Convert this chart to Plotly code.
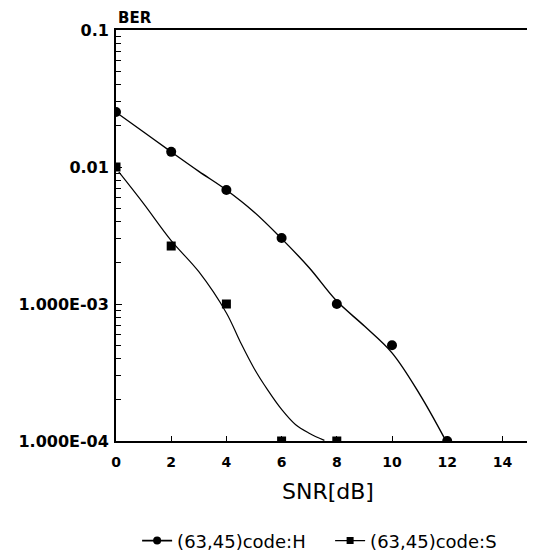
import plotly.graph_objects as go

# Measured points
snr_h = [0, 2, 4, 6, 8, 10, 12]
ber_h = [0.0252, 0.0129, 0.0068, 0.00303, 0.00100, 0.00050, 0.00010]
snr_s = [0, 2, 4, 6, 8]
ber_s = [0.0100, 0.00265, 0.00100, 0.00010, 0.00010]

# Smooth fitted curves
fit_h_x = [0, 1, 2, 3, 4, 5, 6, 7, 8, 9, 10, 11, 11.9]
fit_h_y = [0.0251, 0.0180, 0.0129, 0.0093, 0.0068, 0.0047, 0.0030, 0.00184, 0.00105, 0.00069, 0.00044, 0.00022, 0.000105]
fit_s_x = [0.1, 1, 2, 3, 4, 4.5, 5, 5.5, 6, 6.5, 7, 7.55]
fit_s_y = [0.0092, 0.0054, 0.0029, 0.00172, 0.00086, 0.00053, 0.00034, 0.000235, 0.000170, 0.000132, 0.000114, 0.000101]

y_tickvals = [1e-4, 1e-3, 1e-2, 1e-1]
y_ticktext = ["1.000E-04", "1.000E-03", "0.01", "0.1"]
x_tickvals = [0, 2, 4, 6, 8, 10, 12, 14]
x_ticktext = ["0", "2", "4", "6", "8", "10", "12", "14"]
minor_vals = [m * 10 ** e for e in (-4, -3, -2) for m in range(2, 10)]

label_h = "(63,45)code:H"
label_s = "(63,45)code:S"

FONT = "DejaVu Sans"
fig = go.Figure()
fig.add_trace(go.Scatter(x=fit_h_x, y=fit_h_y, mode="lines", line=dict(color="black", width=1.4, shape="spline", smoothing=1.0), showlegend=False))
fig.add_trace(go.Scatter(x=fit_s_x, y=fit_s_y, mode="lines", line=dict(color="black", width=1.2, shape="spline", smoothing=1.0), showlegend=False))
fig.add_trace(go.Scatter(x=snr_h, y=ber_h, mode="markers", marker=dict(symbol="circle", size=10, color="black"), showlegend=False))
fig.add_trace(go.Scatter(x=snr_s, y=ber_s, mode="markers", marker=dict(symbol="square", size=9, color="black"), showlegend=False))
# legend entries
fig.add_trace(go.Scatter(x=[None], y=[None], mode="lines+markers", name=label_h,
                         line=dict(color="black", width=1.8), marker=dict(symbol="circle", size=8, color="black")))
fig.add_trace(go.Scatter(x=[None], y=[None], mode="lines+markers", name=label_s,
                         line=dict(color="black", width=1.3), marker=dict(symbol="square", size=7, color="black")))

fig.update_layout(
    width=535, height=557,
    margin=dict(l=108, r=13, t=22, b=124, autoexpand=False),
    paper_bgcolor="white", plot_bgcolor="white",
    font=dict(family=FONT, color="black", size=14),
    legend=dict(orientation="h", x=0.051, xanchor="left", y=-0.243, yanchor="middle",
                font=dict(family=FONT, size=18), itemwidth=30, tracegroupgap=0, entrywidth=148),
    showlegend=True,
)
fig.update_xaxes(range=[0, 15], tickmode="array", tickvals=x_tickvals, ticktext=x_ticktext,
                 ticks="inside", ticklen=5, tickcolor="black", showline=True, linecolor="black",
                 linewidth=1.8, mirror=True, showgrid=False, zeroline=False, automargin=False,
                 ticklabelstandoff=7,
                 tickfont=dict(family=FONT, size=14, weight="bold"))
fig.update_yaxes(type="log", range=[-4, -1], tickmode="array", tickvals=y_tickvals, ticktext=y_ticktext,
                 ticks="inside", ticklen=6, tickcolor="black", showline=True, linecolor="black",
                 linewidth=1.8, mirror=True, showgrid=False, zeroline=False, automargin=False,
                 ticklabelstandoff=2,
                 tickfont=dict(family=FONT, size=16, weight="bold"),
                 minor=dict(tickmode="array", tickvals=minor_vals, ticks="inside", ticklen=5, tickcolor="black", showgrid=False))
fig.add_annotation(text="BER", xref="paper", yref="paper", x=0.0, y=1.0, xanchor="left", yanchor="middle",
                   yshift=12, showarrow=False, font=dict(family=FONT, size=15, weight="bold"))
fig.add_annotation(text="SNR[dB]", xref="paper", yref="paper", x=0.511, y=-0.1217, xanchor="center",
                   yanchor="middle", showarrow=False, font=dict(family=FONT, size=22))
fig.write_html("out.html")
